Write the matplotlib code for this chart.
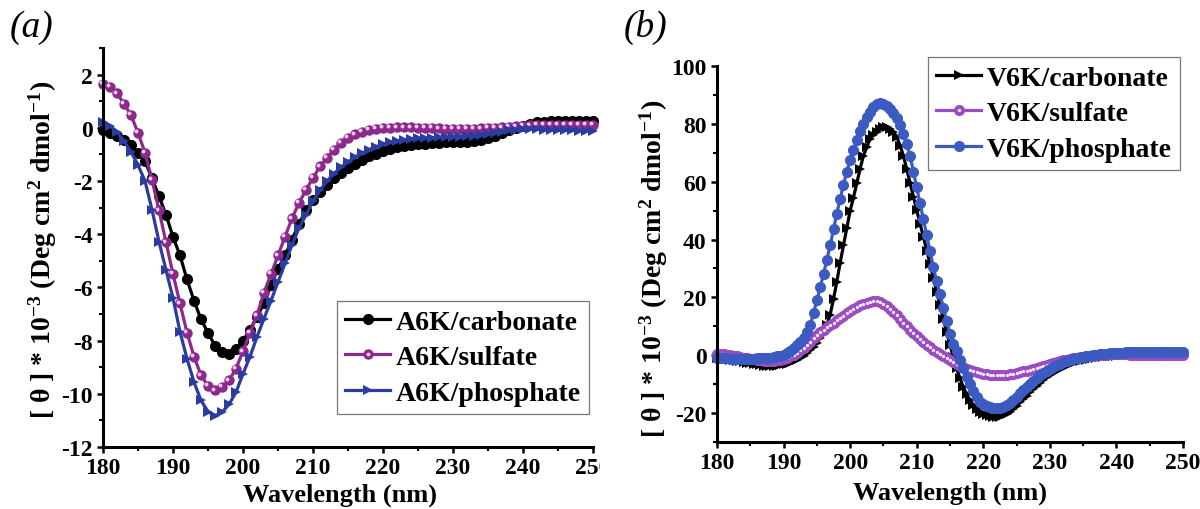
import numpy as np
import matplotlib
matplotlib.use('Agg')
import matplotlib.pyplot as plt
from matplotlib.ticker import MultipleLocator
from matplotlib.transforms import offset_copy
from matplotlib.legend_handler import HandlerTuple
from matplotlib.patches import Rectangle

plt.rcParams['font.family'] = ['Liberation Serif', 'DejaVu Serif']
plt.rcParams['font.weight'] = 'bold'
plt.rcParams['axes.labelweight'] = 'bold'
plt.rcParams['axes.unicode_minus'] = False
plt.rcParams['mathtext.fontset'] = 'custom'
plt.rcParams['mathtext.rm'] = 'Liberation Serif:bold'
plt.rcParams['mathtext.bf'] = 'Liberation Serif:bold'
plt.rcParams['mathtext.it'] = 'Liberation Serif:italic:bold'

###############################
### panel (a): A6K, 1 nm steps
###############################
wl_a = np.arange(180, 251, 1)
a6k_carbonate = [-0.1, -0.2, -0.3, -0.45, -0.65, -0.95, -1.25, -1.9, -2.57, -3.27,
                 -4.1, -4.8, -5.7, -6.5, -7.2, -7.7, -8.2, -8.43, -8.5, -8.3,
                 -8.0, -7.6, -7.1, -6.6, -5.9, -5.3, -4.8, -4.2, -3.6, -3.1,
                 -2.7, -2.4, -2.15, -1.9, -1.7, -1.5, -1.35, -1.2, -1.07, -0.97,
                 -0.88, -0.8, -0.74, -0.69, -0.65, -0.62, -0.6, -0.58, -0.56, -0.55,
                 -0.55, -0.54, -0.52, -0.5, -0.45, -0.38, -0.3, -0.2, -0.1, 0.0,
                 0.08, 0.15, 0.2, 0.23, 0.25, 0.26, 0.26, 0.26, 0.25, 0.25, 0.25]
a6k_sulfate = [1.65, 1.55, 1.3, 0.9, 0.48, -0.19, -0.94, -1.95, -3.1, -4.3,
               -5.5, -6.6, -7.7, -8.6, -9.3, -9.7, -9.87, -9.75, -9.5, -9.05,
               -8.4, -7.7, -7.05, -6.2, -5.5, -4.8, -4.1, -3.4, -2.83, -2.33,
               -1.89, -1.45, -1.13, -0.82, -0.57, -0.38, -0.24, -0.15, -0.08, -0.03,
               0.0, 0.01, 0.02, 0.02, 0.02, 0.01, 0.0, -0.01, -0.02, -0.03,
               -0.04, -0.04, -0.04, -0.03, -0.02, -0.01, 0.0, 0.02, 0.04, 0.06,
               0.08, 0.09, 0.1, 0.1, 0.1, 0.1, 0.1, 0.1, 0.1, 0.1, 0.1]
a6k_phosphate = [0.2, 0.08, -0.15, -0.5, -0.9, -1.4, -2.0, -3.08, -4.28, -5.35,
                 -6.4, -7.67, -8.68, -9.56, -10.25, -10.67, -10.82, -10.7, -10.4, -9.94,
                 -9.25, -8.6, -7.86, -7.17, -6.5, -5.8, -5.1, -4.4, -3.77, -3.27,
                 -2.77, -2.35, -2.0, -1.72, -1.48, -1.28, -1.1, -0.95, -0.82, -0.71,
                 -0.62, -0.55, -0.49, -0.45, -0.42, -0.4, -0.38, -0.37, -0.36, -0.35,
                 -0.34, -0.33, -0.32, -0.3, -0.27, -0.24, -0.2, -0.15, -0.1, -0.07,
                 -0.05, -0.05, -0.06, -0.07, -0.08, -0.09, -0.1, -0.1, -0.11, -0.12, -0.12]

#################################
### panel (b): V6K, 0.5 nm steps
#################################
wl_b = np.arange(180, 250.5, 0.5)
v6k_carbonate = (
    [-1.0, -1.1, -1.2, -1.3, -1.5, -1.7, -1.9, -2.1, -2.3, -2.6, -2.8, -3.0, -3.2, -3.4, -3.6, -3.7, -3.8, -3.8, -3.7, -3.5]
    + [-3.2, -2.9, -2.6, -2.1, -1.6, -0.9, -0.2, 0.8, 1.8, 3.0, 4.3, 5.9, 8.0, 10.5, 14.0, 19.5, 25.4, 32.0, 38.0, 44.0]
    + [50.0, 54.5, 59.5, 64.5, 69.0, 72.0, 74.8, 76.2, 77.3, 78.3, 78.9, 79.0, 78.3, 77.2, 75.5, 72.5, 69.0, 64.3, 59.5, 54.8]
    + [50.2, 45.5, 41.0, 36.2, 31.5, 26.8, 22.0, 17.2, 12.5, 8.0, 3.5, -0.5, -4.5, -8.0, -11.0, -13.5, -15.5, -17.2, -18.5, -19.5]
    + [-20.2, -20.7, -21.0, -21.2, -21.3, -21.2, -20.8, -20.2, -19.5, -18.5, -17.5, -16.3, -15.2, -14.0, -12.8, -11.6, -10.5, -9.5, -8.5, -7.6]
    + [-6.8, -6.1, -5.4, -4.8, -4.2, -3.7, -3.2, -2.8, -2.4, -2.1, -1.8, -1.5, -1.3, -1.1, -0.9, -0.7, -0.6, -0.4, -0.3, -0.2]
    + [-0.1, 0.0, 0.0, 0.1, 0.1, 0.2, 0.2, 0.2, 0.3, 0.3, 0.3, 0.3, 0.4, 0.4, 0.4, 0.4, 0.5, 0.5, 0.5, 0.5]
    + [0.5])
v6k_sulfate = (
    [0.5, 0.4, 0.3, 0.1, 0.0, -0.2, -0.4, -0.6, -0.8, -1.0, -1.2, -1.4, -1.6, -1.8, -2.0, -2.0, -2.0, -1.9, -1.8, -1.6]
    + [-1.3, -0.9, -0.4, 0.2, 0.9, 1.7, 2.6, 3.6, 4.7, 5.8, 6.9, 7.9, 8.8, 9.7, 10.5, 11.3, 12.1, 12.9, 13.7, 14.5]
    + [15.3, 16.0, 16.7, 17.3, 17.8, 18.2, 18.5, 18.7, 18.7, 18.4, 17.8, 17.0, 16.0, 15.0, 13.8, 12.6, 11.3, 10.0, 8.8, 7.7]
    + [6.6, 5.6, 4.6, 3.7, 2.8, 1.9, 1.1, 0.3, -0.4, -1.1, -1.8, -2.5, -3.1, -3.7, -4.2, -4.7, -5.2, -5.6, -5.9, -6.2]
    + [-6.4, -6.6, -6.7, -6.8, -6.8, -6.8, -6.8, -6.7, -6.6, -6.4, -6.2, -5.9, -5.6, -5.3, -5.0, -4.7, -4.3, -4.0, -3.6, -3.3]
    + [-2.9, -2.6, -2.3, -2.0, -1.8, -1.5, -1.3, -1.1, -0.9, -0.7, -0.5, -0.35, -0.2, -0.1, 0.0, 0.1, 0.2, 0.25, 0.3, 0.3]
    + [0.3, 0.3, 0.3, 0.3, 0.2, 0.2, 0.2, 0.2, 0.2, 0.1, 0.1, 0.1, 0.1, 0.1, 0.0, 0.0, 0.0, 0.0, 0.0, 0.0]
    + [0.0])
v6k_phosphate = (
    [-1.0, -1.0, -1.1, -1.1, -1.2, -1.2, -1.2, -1.2, -1.2, -1.2, -1.2, -1.2, -1.1, -1.1, -1.0, -0.9, -0.8, -0.6, -0.4, -0.2]
    + [0.2, 0.8, 1.5, 2.4, 3.5, 4.7, 6.0, 8.0, 10.4, 14.5, 19.0, 23.5, 28.0, 33.0, 38.0, 43.5, 49.0, 54.0, 59.0, 63.5]
    + [67.5, 71.0, 74.5, 77.5, 80.0, 82.3, 84.2, 85.7, 86.8, 87.2, 86.9, 86.2, 85.2, 83.8, 82.0, 79.5, 76.5, 73.0, 69.0, 63.5]
    + [58.0, 52.5, 47.0, 41.5, 36.0, 30.5, 25.5, 21.0, 16.5, 12.0, 7.5, 4.0, 1.5, -1.5, -4.5, -7.5, -10.0, -12.5, -14.5, -16.0]
    + [-17.0, -17.6, -18.0, -18.2, -18.3, -18.2, -17.8, -17.2, -16.4, -15.4, -14.3, -13.2, -12.0, -10.9, -9.8, -8.8, -7.9, -7.0, -6.2, -5.4]
    + [-4.7, -4.1, -3.5, -3.0, -2.5, -2.1, -1.7, -1.4, -1.1, -0.8, -0.6, -0.4, -0.2, 0.0, 0.2, 0.3, 0.4, 0.5, 0.6, 0.7]
    + [0.8, 0.9, 0.9, 1.0, 1.0, 1.0, 1.1, 1.1, 1.1, 1.1, 1.2, 1.2, 1.2, 1.2, 1.2, 1.2, 1.2, 1.2, 1.2, 1.2]
    + [1.2])

ylab = r'[ θ ] * 10$^{-3}$ (Deg cm$^{2}$ dmol$^{-1}$)'
legend_font = {'family': 'Liberation Serif', 'weight': 'bold', 'size': 20}

#####################
### figure and axes
#####################
fig = plt.figure(figsize=(12, 5.1), dpi=100)
ax1 = fig.add_axes([103/1200, 1-448/510, 490/1200, 399/510])
ax2 = fig.add_axes([717/1200, 1-443/510, 466/1200, 376/510])

def style_axes(ax):
    for s in ['top', 'right']:
        ax.spines[s].set_visible(False)
    for s in ['left', 'bottom']:
        ax.spines[s].set_linewidth(2.2)
    ax.tick_params(which='major', direction='out', length=4.5, width=1.8, labelsize=17, pad=3)
    ax.tick_params(which='minor', direction='out', length=2.8, width=1.5)
    ax.set_xlim(180, 250)
    ax.xaxis.set_major_locator(MultipleLocator(10))
    ax.xaxis.set_minor_locator(MultipleLocator(5))
    ax.set_xlabel('Wavelength (nm)', fontsize=19)
    ax.set_ylabel(ylab, fontsize=20)

style_axes(ax1)
style_axes(ax2)

# panel a
l1, = ax1.plot(wl_a, a6k_carbonate, '-o', color='black', lw=2.3, ms=8, mew=0, clip_on=False)
l2, = ax1.plot(wl_a, a6k_sulfate, '-o', color='#8b2a8c', lw=2.3, ms=7.5, mew=0, clip_on=False)
hl = offset_copy(ax1.transData, fig=fig, x=-1.2, y=1.2, units='points')
l2h, = ax1.plot(wl_a, a6k_sulfate, 'o', color='#f2caf0', ms=2.8, mew=0, transform=hl, clip_on=False)
l3, = ax1.plot(wl_a, a6k_phosphate, '->', color='#2b3ca0', lw=2.3, ms=7, mew=0, clip_on=False)
ax1.set_ylim(-12, 3)
ax1.yaxis.set_major_locator(MultipleLocator(2))
ax1.yaxis.set_minor_locator(MultipleLocator(1))
ax1.yaxis.set_label_coords(-0.09, 0.496)
ax1.xaxis.set_label_coords(0.484, -0.088)
leg1 = ax1.legend([l1, (l2, l2h), l3], ['A6K/carbonate', 'A6K/sulfate', 'A6K/phosphate'],
                  handler_map={tuple: HandlerTuple(ndivide=1)},
                  loc='lower right', bbox_to_anchor=(0.992, 0.083), borderaxespad=0,
                  prop=legend_font, fancybox=False, edgecolor='#555555',
                  handlelength=1.62, handletextpad=0.2, labelspacing=0.36, borderpad=0.3)
leg1.get_frame().set_linewidth(0.9)

# panel b
m1, = ax2.plot(wl_b, v6k_carbonate, '->', color='black', lw=2.3, ms=7, mew=0, clip_on=False)
m2, = ax2.plot(wl_b, v6k_sulfate, '-o', color='#9a4cc0', lw=2.3, ms=8, mew=0, clip_on=False)
m2h, = ax2.plot(wl_b, v6k_sulfate, 'o', color='#f4e8f8', ms=2.4, mew=0, clip_on=False)
m3, = ax2.plot(wl_b, v6k_phosphate, '-o', color='#3b5bc2', lw=2.3, ms=8, mew=0, clip_on=False)
ax2.set_ylim(-30, 100)
ax2.yaxis.set_major_locator(MultipleLocator(20))
ax2.yaxis.set_minor_locator(MultipleLocator(10))
ax2.yaxis.set_label_coords(-0.1, 0.463)
ax2.xaxis.set_label_coords(0.5, -0.103)
leg2 = ax2.legend([m1, (m2, m2h), m3], ['V6K/carbonate', 'V6K/sulfate', 'V6K/phosphate'],
                  handler_map={tuple: HandlerTuple(ndivide=1)},
                  loc='upper right', bbox_to_anchor=(0.994, 1.024), borderaxespad=0,
                  prop=legend_font, fancybox=False, edgecolor='#555555',
                  handlelength=1.62, handletextpad=0.2, labelspacing=0.36, borderpad=0.3)
leg2.get_frame().set_linewidth(0.9)

# panel letters
fig.text(10/1200, 1-10/510, '(a)', fontsize=27, style='italic', weight='normal', va='top')
fig.text(624/1200, 1-10/510, '(b)', fontsize=27, style='italic', weight='normal', va='top')

# the right end of panel (a) is cut off in the original layout
fig.add_artist(Rectangle((600/1200, 0), 16/1200, 1, transform=fig.transFigure,
                         facecolor='white', edgecolor='none', zorder=5))

plt.savefig('out.png', dpi=100)
